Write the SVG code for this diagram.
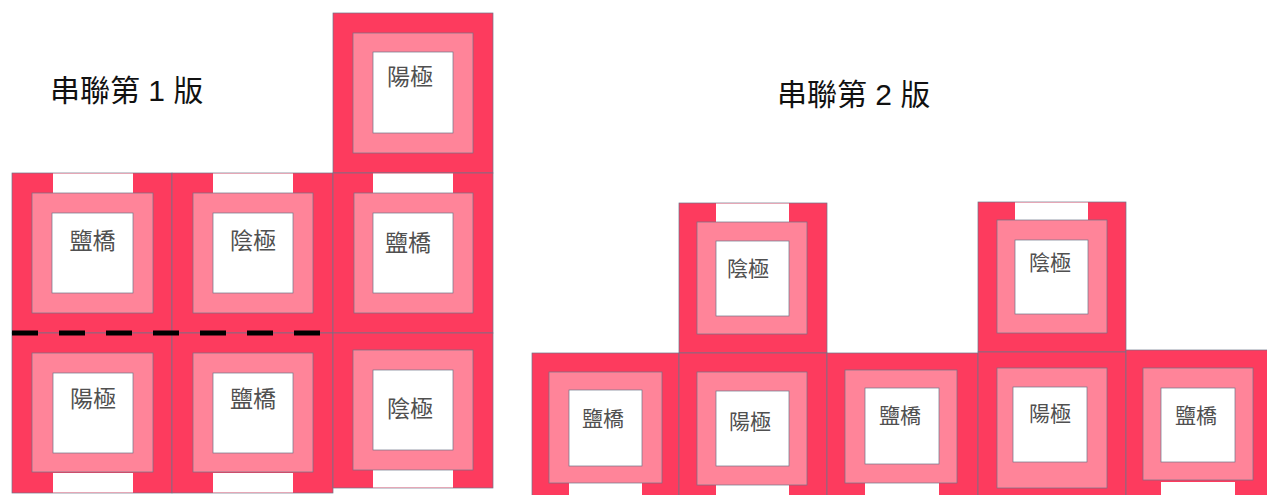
<svg xmlns="http://www.w3.org/2000/svg" width="1267" height="495" viewBox="0 0 1267 495">
<defs>
<style>
.o{fill:#fd3b5e;stroke:#6d7488;stroke-width:0.7}
.p{fill:#ff8499;stroke:#6d7488;stroke-width:0.7}
.w{fill:#ffffff;stroke:#6d7488;stroke-width:0.7}
.n{fill:#ffffff;stroke:none}
.l{font-family:"Noto Sans CJK TC","Noto Sans CJK SC",sans-serif;fill:#505050;text-anchor:middle;dominant-baseline:central}
.ls{font-size:23px}
.rs{font-size:21px}
.t{font-family:"Liberation Sans","Noto Sans CJK TC",sans-serif;font-size:30px;fill:#111}
</style>
</defs>
<rect width="1267" height="495" fill="#ffffff"/>
<text class="t" x="50" y="101">串聯第 1 版</text>
<text class="t" x="777" y="105">串聯第 2 版</text>

<!-- Left group -->
<g id="A">
<rect class="o" x="12" y="173" width="160" height="160"/>
<rect class="n" x="53" y="173.5" width="80" height="19.5"/>
<rect class="p" x="32" y="193" width="121" height="120"/>
<rect class="w" x="52" y="213" width="81" height="80"/>
<text class="l ls" x="92.5" y="239">鹽橋</text>
</g>
<g id="B">
<rect class="o" x="172" y="173" width="161" height="160"/>
<rect class="n" x="213" y="173.5" width="80" height="19.5"/>
<rect class="p" x="193" y="193" width="120" height="120"/>
<rect class="w" x="213" y="213" width="80" height="80"/>
<text class="l ls" x="253" y="239">陰極</text>
</g>
<g id="C">
<rect class="o" x="12" y="333" width="160" height="160"/>
<rect class="n" x="53" y="473" width="80" height="19.5"/>
<rect class="p" x="32" y="353" width="121" height="119"/>
<rect class="w" x="53" y="373" width="80" height="80"/>
<text class="l ls" x="93" y="397">陽極</text>
</g>
<g id="D">
<rect class="o" x="172" y="333" width="161" height="160"/>
<rect class="n" x="213" y="473" width="80" height="19.5"/>
<rect class="p" x="193" y="353" width="120" height="119"/>
<rect class="w" x="213" y="373" width="80" height="80"/>
<text class="l ls" x="253" y="397">鹽橋</text>
</g>
<g id="E">
<rect class="o" x="333" y="13" width="160" height="160"/>
<rect class="p" x="353" y="33" width="120" height="120"/>
<rect class="w" x="373" y="52" width="80" height="81"/>
<text class="l ls" x="410" y="75">陽極</text>
</g>
<g id="F">
<rect class="o" x="333" y="173" width="160" height="160"/>
<rect class="n" x="373" y="173.5" width="80" height="19.5"/>
<rect class="p" x="354" y="193" width="119" height="120"/>
<rect class="w" x="373" y="213" width="80" height="80"/>
<text class="l ls" x="408" y="241">鹽橋</text>
</g>
<g id="G">
<rect class="o" x="333" y="333" width="160" height="155"/>
<rect class="n" x="373" y="470" width="80" height="17.5"/>
<rect class="p" x="353" y="350" width="120" height="120"/>
<rect class="w" x="373" y="370" width="80" height="80"/>
<text class="l ls" x="410" y="407">陰極</text>
</g>

<!-- Right group -->
<g id="R1">
<rect class="o" x="679" y="203" width="148" height="150"/>
<rect class="n" x="716" y="203.5" width="73" height="18.5"/>
<rect class="p" x="697" y="222" width="110" height="112"/>
<rect class="w" x="716" y="241" width="73" height="75"/>
<text class="l rs" x="748" y="267">陰極</text>
</g>
<g id="R2">
<rect class="o" x="978" y="202" width="148" height="150"/>
<rect class="n" x="1015" y="202.5" width="73" height="17.5"/>
<rect class="p" x="997" y="220" width="110" height="113"/>
<rect class="w" x="1015" y="240" width="73" height="74"/>
<text class="l rs" x="1050" y="261">陰極</text>
</g>
<g id="B1">
<rect class="o" x="532" y="353" width="147" height="148"/>
<rect class="n" x="569" y="483" width="73" height="17"/>
<rect class="p" x="549" y="372" width="113" height="111"/>
<rect class="w" x="569" y="390" width="73" height="76"/>
<text class="l rs" x="603" y="417">鹽橋</text>
</g>
<g id="B2">
<rect class="o" x="679" y="353" width="148" height="148"/>
<rect class="n" x="716" y="485" width="73" height="15"/>
<rect class="p" x="697" y="372" width="110" height="113"/>
<rect class="w" x="716" y="391" width="73" height="75"/>
<text class="l rs" x="750" y="420">陽極</text>
</g>
<g id="B3">
<rect class="o" x="827" y="353" width="151" height="148"/>
<rect class="n" x="865" y="483" width="74" height="17"/>
<rect class="p" x="845" y="370" width="112" height="113"/>
<rect class="w" x="865" y="388" width="74" height="76"/>
<text class="l rs" x="900" y="414">鹽橋</text>
</g>
<g id="B4">
<rect class="o" x="978" y="352" width="148" height="149"/>
<rect class="p" x="997" y="368" width="110" height="120"/>
<rect class="w" x="1013" y="387" width="74" height="75"/>
<text class="l rs" x="1050" y="412">陽極</text>
</g>
<g id="B5">
<rect class="o" x="1126" y="350" width="148" height="151"/>
<rect class="n" x="1161" y="482" width="74" height="18"/>
<rect class="p" x="1143" y="368" width="110" height="112"/>
<rect class="w" x="1161" y="388" width="74" height="74"/>
<text class="l rs" x="1196" y="414">鹽橋</text>
</g>

<g id="connectors">
<line x1="12" y1="333" x2="322" y2="333" stroke="#000" stroke-width="5" stroke-dasharray="26 21"/>
</g>
</svg>
